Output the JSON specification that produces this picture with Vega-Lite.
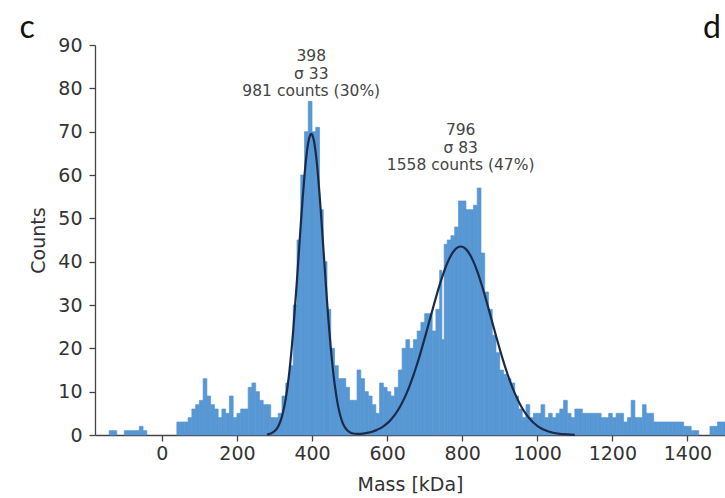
{
  "$schema": "https://vega.github.io/schema/vega-lite/v6.json",
  "width": 630,
  "height": 390,
  "autosize": {"type": "none"},
  "padding": {"left": 95, "top": 45, "right": 0, "bottom": 63},
  "background": "white",
  "config": {
    "view": {"stroke": null},
    "font": "DejaVu Sans",
    "axis": {"grid": false, "domainColor": "#444", "tickColor": "#444", "labelColor": "#333", "titleColor": "#333", "labelFontSize": 19, "titleFontSize": 19, "titleFontWeight": "normal", "tickSize": 6, "domainWidth": 1.3, "tickWidth": 1.3, "labelFont": "DejaVu Sans", "titleFont": "DejaVu Sans"}
  },
  "datasets": {
    "hist": [
      {"start": -180, "end": -170, "count": 0}, {"start": -170, "end": -160, "count": 0}, {"start": -160, "end": -150, "count": 0}, {"start": -150, "end": -140, "count": 0},
      {"start": -140, "end": -130, "count": 1}, {"start": -130, "end": -120, "count": 1}, {"start": -120, "end": -110, "count": 0}, {"start": -110, "end": -100, "count": 0},
      {"start": -100, "end": -90, "count": 1}, {"start": -90, "end": -80, "count": 1}, {"start": -80, "end": -70, "count": 1}, {"start": -70, "end": -60, "count": 1},
      {"start": -60, "end": -50, "count": 2}, {"start": -50, "end": -40, "count": 1}, {"start": -40, "end": -30, "count": 0}, {"start": -30, "end": -20, "count": 0},
      {"start": -20, "end": -10, "count": 0}, {"start": -10, "end": 0, "count": 0}, {"start": 0, "end": 10, "count": 0}, {"start": 10, "end": 20, "count": 0},
      {"start": 20, "end": 30, "count": 0}, {"start": 30, "end": 40, "count": 0}, {"start": 40, "end": 50, "count": 3}, {"start": 50, "end": 60, "count": 3},
      {"start": 60, "end": 70, "count": 3}, {"start": 70, "end": 80, "count": 4}, {"start": 80, "end": 90, "count": 6}, {"start": 90, "end": 100, "count": 7},
      {"start": 100, "end": 110, "count": 8}, {"start": 110, "end": 120, "count": 13}, {"start": 120, "end": 130, "count": 9}, {"start": 130, "end": 140, "count": 7},
      {"start": 140, "end": 150, "count": 6}, {"start": 150, "end": 160, "count": 4}, {"start": 160, "end": 170, "count": 6}, {"start": 170, "end": 180, "count": 5},
      {"start": 180, "end": 190, "count": 9}, {"start": 190, "end": 200, "count": 4}, {"start": 200, "end": 210, "count": 5}, {"start": 210, "end": 220, "count": 6},
      {"start": 220, "end": 230, "count": 6}, {"start": 230, "end": 240, "count": 11}, {"start": 240, "end": 250, "count": 12}, {"start": 250, "end": 260, "count": 10},
      {"start": 260, "end": 270, "count": 8}, {"start": 270, "end": 280, "count": 7}, {"start": 280, "end": 290, "count": 7}, {"start": 290, "end": 300, "count": 4},
      {"start": 300, "end": 310, "count": 4}, {"start": 310, "end": 320, "count": 5}, {"start": 320, "end": 330, "count": 9}, {"start": 330, "end": 340, "count": 12},
      {"start": 340, "end": 350, "count": 16}, {"start": 350, "end": 360, "count": 30}, {"start": 360, "end": 370, "count": 45}, {"start": 370, "end": 380, "count": 60},
      {"start": 380, "end": 390, "count": 70}, {"start": 390, "end": 400, "count": 77}, {"start": 400, "end": 410, "count": 70}, {"start": 410, "end": 420, "count": 71},
      {"start": 420, "end": 430, "count": 52}, {"start": 430, "end": 440, "count": 40}, {"start": 440, "end": 450, "count": 29}, {"start": 450, "end": 460, "count": 20},
      {"start": 460, "end": 470, "count": 16}, {"start": 470, "end": 480, "count": 13}, {"start": 480, "end": 490, "count": 13}, {"start": 490, "end": 500, "count": 11},
      {"start": 500, "end": 510, "count": 8}, {"start": 510, "end": 520, "count": 8}, {"start": 520, "end": 530, "count": 15}, {"start": 530, "end": 540, "count": 13},
      {"start": 540, "end": 550, "count": 10}, {"start": 550, "end": 560, "count": 9}, {"start": 560, "end": 570, "count": 7}, {"start": 570, "end": 580, "count": 5},
      {"start": 580, "end": 590, "count": 12}, {"start": 590, "end": 600, "count": 11}, {"start": 600, "end": 610, "count": 10}, {"start": 610, "end": 620, "count": 9},
      {"start": 620, "end": 630, "count": 11}, {"start": 630, "end": 640, "count": 15}, {"start": 640, "end": 650, "count": 20}, {"start": 650, "end": 660, "count": 22},
      {"start": 660, "end": 670, "count": 20}, {"start": 670, "end": 680, "count": 22}, {"start": 680, "end": 690, "count": 24}, {"start": 690, "end": 700, "count": 26},
      {"start": 700, "end": 710, "count": 28}, {"start": 710, "end": 720, "count": 28}, {"start": 720, "end": 730, "count": 24}, {"start": 730, "end": 740, "count": 29},
      {"start": 740, "end": 746, "count": 38}, {"start": 746, "end": 752, "count": 22}, {"start": 752, "end": 760, "count": 44}, {"start": 760, "end": 770, "count": 45},
      {"start": 770, "end": 780, "count": 46}, {"start": 780, "end": 790, "count": 48}, {"start": 790, "end": 800, "count": 54}, {"start": 800, "end": 810, "count": 54},
      {"start": 810, "end": 820, "count": 52}, {"start": 820, "end": 830, "count": 52}, {"start": 830, "end": 840, "count": 53}, {"start": 840, "end": 850, "count": 57},
      {"start": 850, "end": 860, "count": 42}, {"start": 860, "end": 870, "count": 33}, {"start": 870, "end": 880, "count": 29}, {"start": 880, "end": 890, "count": 23},
      {"start": 890, "end": 900, "count": 19}, {"start": 900, "end": 910, "count": 15}, {"start": 910, "end": 920, "count": 14}, {"start": 920, "end": 930, "count": 13},
      {"start": 930, "end": 940, "count": 12}, {"start": 940, "end": 950, "count": 9}, {"start": 950, "end": 960, "count": 6}, {"start": 960, "end": 970, "count": 4},
      {"start": 970, "end": 980, "count": 7}, {"start": 980, "end": 990, "count": 4}, {"start": 990, "end": 1000, "count": 5}, {"start": 1000, "end": 1010, "count": 5},
      {"start": 1010, "end": 1020, "count": 7}, {"start": 1020, "end": 1030, "count": 4}, {"start": 1030, "end": 1040, "count": 5}, {"start": 1040, "end": 1050, "count": 4},
      {"start": 1050, "end": 1060, "count": 5}, {"start": 1060, "end": 1070, "count": 6}, {"start": 1070, "end": 1080, "count": 8}, {"start": 1080, "end": 1090, "count": 5},
      {"start": 1090, "end": 1100, "count": 4}, {"start": 1100, "end": 1110, "count": 6}, {"start": 1110, "end": 1120, "count": 6}, {"start": 1120, "end": 1130, "count": 5},
      {"start": 1130, "end": 1140, "count": 5}, {"start": 1140, "end": 1150, "count": 5}, {"start": 1150, "end": 1160, "count": 5}, {"start": 1160, "end": 1170, "count": 5},
      {"start": 1170, "end": 1180, "count": 4}, {"start": 1180, "end": 1190, "count": 4}, {"start": 1190, "end": 1200, "count": 5}, {"start": 1200, "end": 1210, "count": 4},
      {"start": 1210, "end": 1220, "count": 5}, {"start": 1220, "end": 1230, "count": 5}, {"start": 1230, "end": 1240, "count": 3}, {"start": 1240, "end": 1250, "count": 4},
      {"start": 1250, "end": 1260, "count": 8}, {"start": 1260, "end": 1270, "count": 4}, {"start": 1270, "end": 1280, "count": 4}, {"start": 1280, "end": 1290, "count": 7},
      {"start": 1290, "end": 1300, "count": 5}, {"start": 1300, "end": 1310, "count": 5}, {"start": 1310, "end": 1320, "count": 3}, {"start": 1320, "end": 1330, "count": 3},
      {"start": 1330, "end": 1340, "count": 3}, {"start": 1340, "end": 1350, "count": 3}, {"start": 1350, "end": 1360, "count": 3}, {"start": 1360, "end": 1370, "count": 3},
      {"start": 1370, "end": 1380, "count": 3}, {"start": 1380, "end": 1390, "count": 3}, {"start": 1390, "end": 1400, "count": 2}, {"start": 1400, "end": 1410, "count": 2},
      {"start": 1410, "end": 1420, "count": 1}, {"start": 1420, "end": 1430, "count": 1}, {"start": 1430, "end": 1440, "count": 0}, {"start": 1440, "end": 1450, "count": 0},
      {"start": 1450, "end": 1460, "count": 0}, {"start": 1460, "end": 1470, "count": 2}, {"start": 1470, "end": 1480, "count": 2}, {"start": 1480, "end": 1490, "count": 3},
      {"start": 1490, "end": 1500, "count": 3}
    ],
    "fit": [
      {"mass": 280, "fit": 0.12}, {"mass": 290, "fit": 0.33}, {"mass": 300, "fit": 0.85}, {"mass": 310, "fit": 1.99},
      {"mass": 320, "fit": 4.25}, {"mass": 330, "fit": 8.32}, {"mass": 340, "fit": 14.83}, {"mass": 350, "fit": 24.13},
      {"mass": 360, "fit": 35.81}, {"mass": 365, "fit": 42.15}, {"mass": 370, "fit": 48.49}, {"mass": 375, "fit": 54.51},
      {"mass": 380, "fit": 59.9}, {"mass": 385, "fit": 64.31}, {"mass": 390, "fit": 67.49}, {"mass": 395, "fit": 69.21},
      {"mass": 398, "fit": 69.5}, {"mass": 400, "fit": 69.37}, {"mass": 405, "fit": 67.95}, {"mass": 410, "fit": 65.05},
      {"mass": 415, "fit": 60.86}, {"mass": 420, "fit": 55.65}, {"mass": 425, "fit": 49.73}, {"mass": 430, "fit": 43.43},
      {"mass": 435, "fit": 37.07}, {"mass": 440, "fit": 30.92}, {"mass": 450, "fit": 20.09}, {"mass": 460, "fit": 11.9},
      {"mass": 470, "fit": 6.44}, {"mass": 480, "fit": 3.17}, {"mass": 490, "fit": 1.48}, {"mass": 500, "fit": 0.66},
      {"mass": 510, "fit": 0.34}, {"mass": 520, "fit": 0.25}, {"mass": 530, "fit": 0.28}, {"mass": 540, "fit": 0.37},
      {"mass": 550, "fit": 0.54}, {"mass": 560, "fit": 0.76}, {"mass": 570, "fit": 1.07}, {"mass": 580, "fit": 1.47},
      {"mass": 590, "fit": 2.0}, {"mass": 600, "fit": 2.68}, {"mass": 610, "fit": 3.53}, {"mass": 620, "fit": 4.59},
      {"mass": 630, "fit": 5.89}, {"mass": 640, "fit": 7.44}, {"mass": 650, "fit": 9.26}, {"mass": 660, "fit": 11.36},
      {"mass": 670, "fit": 13.74}, {"mass": 680, "fit": 16.38}, {"mass": 690, "fit": 19.25}, {"mass": 700, "fit": 22.29},
      {"mass": 710, "fit": 25.43}, {"mass": 720, "fit": 28.61}, {"mass": 730, "fit": 31.71}, {"mass": 740, "fit": 34.64},
      {"mass": 750, "fit": 37.31}, {"mass": 760, "fit": 39.59}, {"mass": 770, "fit": 41.42}, {"mass": 780, "fit": 42.7},
      {"mass": 790, "fit": 43.39}, {"mass": 796, "fit": 43.5}, {"mass": 800, "fit": 43.45}, {"mass": 810, "fit": 42.89},
      {"mass": 820, "fit": 41.72}, {"mass": 830, "fit": 40.0}, {"mass": 840, "fit": 37.8}, {"mass": 850, "fit": 35.2},
      {"mass": 860, "fit": 32.31}, {"mass": 870, "fit": 29.23}, {"mass": 880, "fit": 26.07}, {"mass": 890, "fit": 22.91},
      {"mass": 900, "fit": 19.84}, {"mass": 910, "fit": 16.94}, {"mass": 920, "fit": 14.25}, {"mass": 930, "fit": 11.82},
      {"mass": 940, "fit": 9.66}, {"mass": 950, "fit": 7.78}, {"mass": 960, "fit": 6.18}, {"mass": 970, "fit": 4.83},
      {"mass": 980, "fit": 3.73}, {"mass": 990, "fit": 2.83}, {"mass": 1000, "fit": 2.12}, {"mass": 1010, "fit": 1.57},
      {"mass": 1020, "fit": 1.14}, {"mass": 1030, "fit": 0.82}, {"mass": 1040, "fit": 0.58}, {"mass": 1050, "fit": 0.4},
      {"mass": 1060, "fit": 0.28}, {"mass": 1070, "fit": 0.19}, {"mass": 1080, "fit": 0.13}, {"mass": 1100, "fit": 0.05}
    ],
    "notes": [
      {"mass": 398, "count": 89.0, "label": "398\nσ 33\n981 counts (30%)"},
      {"mass": 796, "count": 72.0, "label": "796\nσ 83\n1558 counts (47%)"}
    ],
    "panels": [
      {"mass": -359, "count": 91.6, "label": "c"},
      {"mass": 1465, "count": 91.6, "label": "d"}
    ]
  },
  "layer": [
    {
      "data": {"name": "hist"},
      "transform": [{"filter": "datum.count > 0"}],
      "mark": {"type": "rect", "color": "#5797d4", "stroke": "#5797d4", "strokeWidth": 0.7},
      "encoding": {
        "x": {"field": "start", "type": "quantitative", "title": "Mass [kDa]",
              "scale": {"domain": [-178, 1500], "nice": false, "zero": false},
              "axis": {"values": [0, 200, 400, 600, 800, 1000, 1200, 1400], "format": "d", "labelPadding": 3, "titlePadding": 12, "labelFlush": false}},
        "x2": {"field": "end"},
        "y": {"field": "count", "type": "quantitative", "title": "Counts",
              "scale": {"domain": [0, 90], "nice": false},
              "axis": {"values": [0, 10, 20, 30, 40, 50, 60, 70, 80, 90], "format": "d", "labelPadding": 7, "titlePadding": 9}},
        "y2": {"datum": 0}
      }
    },
    {
      "data": {"name": "fit"},
      "mark": {"type": "line", "color": "#1b2a48", "strokeWidth": 2.2, "interpolate": "monotone"},
      "encoding": {
        "x": {"field": "mass", "type": "quantitative", "title": "Mass [kDa]"},
        "y": {"field": "fit", "type": "quantitative", "title": "Counts"}
      }
    },
    {
      "data": {"name": "notes"},
      "mark": {"type": "text", "lineBreak": "\n", "align": "center", "baseline": "top", "fontSize": 15.5, "lineHeight": 17.5, "color": "#444", "font": "DejaVu Sans"},
      "encoding": {
        "x": {"field": "mass", "type": "quantitative", "title": "Mass [kDa]"},
        "y": {"field": "count", "type": "quantitative", "title": "Counts"},
        "text": {"field": "label"}
      }
    },
    {
      "data": {"name": "panels"},
      "mark": {"type": "text", "align": "center", "baseline": "alphabetic", "fontSize": 32, "color": "#111", "font": "Lato"},
      "encoding": {
        "x": {"field": "mass", "type": "quantitative", "title": "Mass [kDa]"},
        "y": {"field": "count", "type": "quantitative", "title": "Counts"},
        "text": {"field": "label"}
      }
    }
  ]
}
